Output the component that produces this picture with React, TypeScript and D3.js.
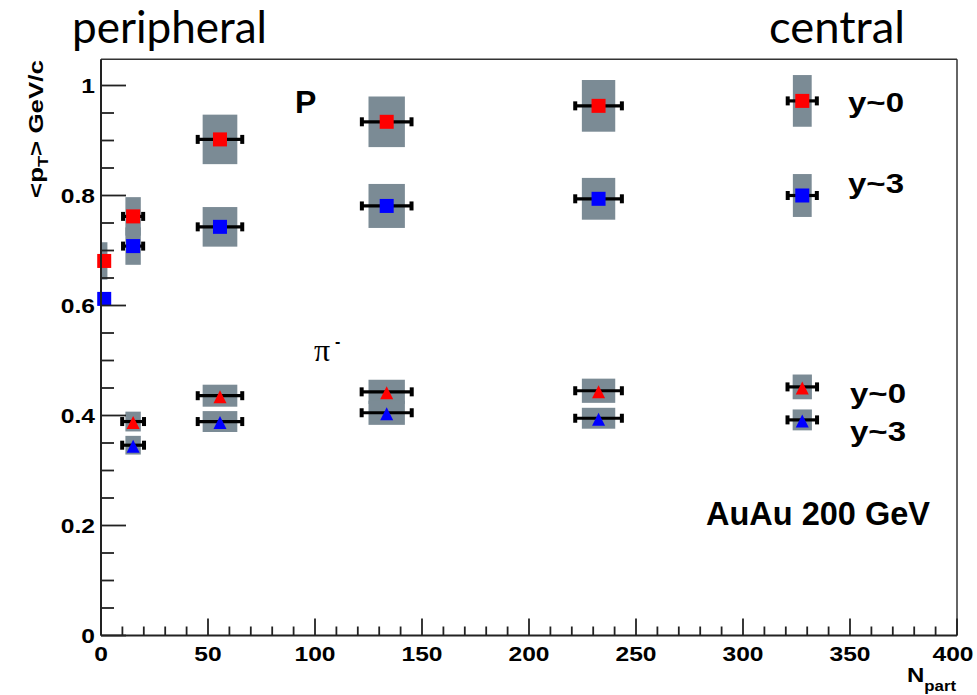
import React from 'react';
import * as d3 from 'd3';

// ---- data ----
const protonNpart = [1.5, 15, 55.6, 133.5, 232.5, 327.7];
const protonNpartErr = [0, 4.7, 10.4, 11.6, 10.9, 6.8];
const protonBoxHalfW = [1.5, 3.6, 8.1, 8.5, 7.8, 4.4];
const protonMid = [0.681, 0.762, 0.902, 0.934, 0.963, 0.972];
const protonMidSys = [0.034, 0.035, 0.045, 0.046, 0.047, 0.047];
const protonFwd = [0.612, 0.708, 0.743, 0.781, 0.794, 0.8];
const protonFwdSys = [0, 0.034, 0.036, 0.04, 0.038, 0.039];

const pionNpart = [15, 55.6, 133.5, 232.5, 327.7];
const pionNpartErr = [5.1, 10.4, 11.7, 10.9, 6.9];
const pionBoxHalfW = [3.6, 8.1, 8.5, 7.8, 4.5];
const pionMid = [0.389, 0.436, 0.443, 0.445, 0.452];
const pionMidSys = [0.018, 0.02, 0.022, 0.022, 0.0225];
const pionFwd = [0.346, 0.389, 0.405, 0.395, 0.392];
const pionFwdSys = [0.017, 0.019, 0.022, 0.019, 0.019];

const xTickLabels = [0, 50, 100, 150, 200, 250, 300, 350, 400];
const yTickLabels = [0, 0.2, 0.4, 0.6, 0.8, 1];

type Series = {
  n: number[]; nErr: number[]; boxHW: number[]; v: number[]; sys: number[];
  color: string; marker: 'square' | 'triangle';
};

const series: Series[] = [
  { n: protonNpart, nErr: protonNpartErr, boxHW: protonBoxHalfW, v: protonMid, sys: protonMidSys, color: '#ff0000', marker: 'square' },
  { n: protonNpart, nErr: protonNpartErr, boxHW: protonBoxHalfW, v: protonFwd, sys: protonFwdSys, color: '#0000ff', marker: 'square' },
  { n: pionNpart, nErr: pionNpartErr, boxHW: pionBoxHalfW, v: pionMid, sys: pionMidSys, color: '#ff0000', marker: 'triangle' },
  { n: pionNpart, nErr: pionNpartErr, boxHW: pionBoxHalfW, v: pionFwd, sys: pionFwdSys, color: '#0000ff', marker: 'triangle' },
];

const W = 977, H = 695;
const left = 101, right = 957, bottom = 635.5;
const yTop = 1.0476;

const x = d3.scaleLinear().domain([0, 400]).range([left, right]);
const y = d3.scaleLinear().domain([0, 1]).range([bottom, bottom - 550]);
const top = y(yTop);

const FONT = '"Liberation Sans", Arial, Helvetica, sans-serif';
const BOX = '#7b8b95';
const SX = 1.2;

export default function App() {
  const xTicks = d3.range(0, 401, 10);
  const yTicks = d3.range(0, yTop, 0.05);
  return (
    <svg width={W} height={H} style={{ position: 'absolute', left: 0, top: 0, background: '#fff' }}>
      <defs>
        <clipPath id="frame">
          <rect x={left} y={top} width={right - left} height={bottom - top} />
        </clipPath>
      </defs>
      <rect x={0} y={0} width={W} height={H} fill="#fff" />

      {/* systematic boxes */}
      <g clipPath="url(#frame)">
        {series.map((s, si) =>
          s.n.map((n, i) =>
            s.sys[i] > 0 ? (
              <rect key={`b${si}-${i}`} x={x(n - s.boxHW[i])} width={x(n + s.boxHW[i]) - x(n - s.boxHW[i])}
                y={y(s.v[i] + s.sys[i])} height={y(s.v[i] - s.sys[i]) - y(s.v[i] + s.sys[i])} fill={BOX} />
            ) : null
          )
        )}
      </g>

      {/* horizontal error bars */}
      {series.map((s, si) =>
        s.n.map((n, i) =>
          s.nErr[i] > 0 ? (
            <g key={`e${si}-${i}`}>
              <line x1={x(n - s.nErr[i])} x2={x(n + s.nErr[i])} y1={y(s.v[i])} y2={y(s.v[i])} stroke="#000" strokeWidth={3.2} />
              <rect x={x(n - s.nErr[i]) - 2} y={y(s.v[i]) - 4.5} width={4} height={9} fill="#000" />
              <rect x={x(n + s.nErr[i]) - 2} y={y(s.v[i]) - 4.5} width={4} height={9} fill="#000" />
            </g>
          ) : null
        )
      )}

      {/* markers */}
      {series.map((s, si) =>
        s.n.map((n, i) => {
          const cx = x(n), cy = y(s.v[i]);
          return s.marker === 'square' ? (
            <rect key={`m${si}-${i}`} x={cx - 7} y={cy - 7} width={14} height={14} fill={s.color} />
          ) : (
            <path key={`m${si}-${i}`} d={`M${cx},${cy - 5.5}L${cx + 6.5},${cy + 7.5}L${cx - 6.5},${cy + 7.5}Z`} fill={s.color} />
          );
        })
      )}

      {/* frame */}
      <line x1={left} x2={right} y1={top} y2={top} stroke="#333" strokeWidth={1.5} />
      <line x1={right} x2={right} y1={top} y2={bottom} stroke="#333" strokeWidth={1.5} />
      <line x1={left} x2={left} y1={top} y2={bottom} stroke="#222" strokeWidth={2} />
      <line x1={left} x2={right} y1={bottom} y2={bottom} stroke="#222" strokeWidth={2} />

      {/* x ticks */}
      {xTicks.map((t) => (
        <line key={`xt${t}`} x1={x(t)} x2={x(t)} y1={bottom} y2={bottom - (t % 50 === 0 ? 17 : 9)} stroke="#222" strokeWidth={1.8} />
      ))}
      {xTickLabels.map((t) => (
        <text key={`xl${t}`} transform={`translate(${t === 400 ? x(t) - 4 : x(t)},661) scale(${SX},1)`} textAnchor="middle" fontFamily={FONT} fontWeight="bold" fontSize={20.5}>{t}</text>
      ))}

      {/* y ticks */}
      {yTicks.map((t) => {
        const major = Math.abs(t / 0.2 - Math.round(t / 0.2)) < 1e-6;
        return <line key={`yt${t}`} x1={left} x2={left + (major ? 25 : 13)} y1={y(t)} y2={y(t)} stroke="#222" strokeWidth={1.8} />;
      })}
      {yTickLabels.map((t) => (
        <text key={`yl${t}`} transform={`translate(95,${y(t) + 7}) scale(${SX},1)`} textAnchor="end" fontFamily={FONT} fontWeight="bold" fontSize={20.5}>{t}</text>
      ))}

      {/* axis titles */}
      <text transform="translate(43,198) rotate(-90)" fontFamily={FONT} fontWeight="bold" fontSize={20} textLength={138} lengthAdjust="spacingAndGlyphs">
        {'<p'}<tspan fontSize={14} dy={5}>T</tspan><tspan dy={-5}>{'> GeV/c'}</tspan>
      </text>
      <text transform={`translate(907,682) scale(${SX},1)`} fontFamily={FONT} fontWeight="bold" fontSize={20}>
        N<tspan fontSize={14} dy={9}>part</tspan>
      </text>

      {/* annotations */}
      <text x={295} y={113} fontFamily={FONT} fontWeight="bold" fontSize={32}>P</text>
      <text x={314} y={361} fontFamily='"Liberation Serif", "DejaVu Serif", serif' fontSize={32}>π</text>
      <text x={335} y={347} fontFamily={FONT} fontWeight="bold" fontSize={16}>-</text>

      <text x={848} y={112} fontFamily={FONT} fontWeight="bold" fontSize={27} textLength={56} lengthAdjust="spacingAndGlyphs">y~0</text>
      <text x={848} y={193} fontFamily={FONT} fontWeight="bold" fontSize={27} textLength={56} lengthAdjust="spacingAndGlyphs">y~3</text>
      <text x={850} y={403} fontFamily={FONT} fontWeight="bold" fontSize={27} textLength={56} lengthAdjust="spacingAndGlyphs">y~0</text>
      <text x={850} y={441} fontFamily={FONT} fontWeight="bold" fontSize={27} textLength={56} lengthAdjust="spacingAndGlyphs">y~3</text>
      <text x={930} y={525} textAnchor="end" fontFamily={FONT} fontWeight="bold" fontSize={32.5}>AuAu 200 GeV</text>

      <text x={72} y={43} fontFamily='Lato, "Open Sans", sans-serif' fontSize={44} textLength={195} lengthAdjust="spacingAndGlyphs">peripheral</text>
      <text x={769} y={43} fontFamily='Lato, "Open Sans", sans-serif' fontSize={44} textLength={136} lengthAdjust="spacingAndGlyphs">central</text>
    </svg>
  );
}
